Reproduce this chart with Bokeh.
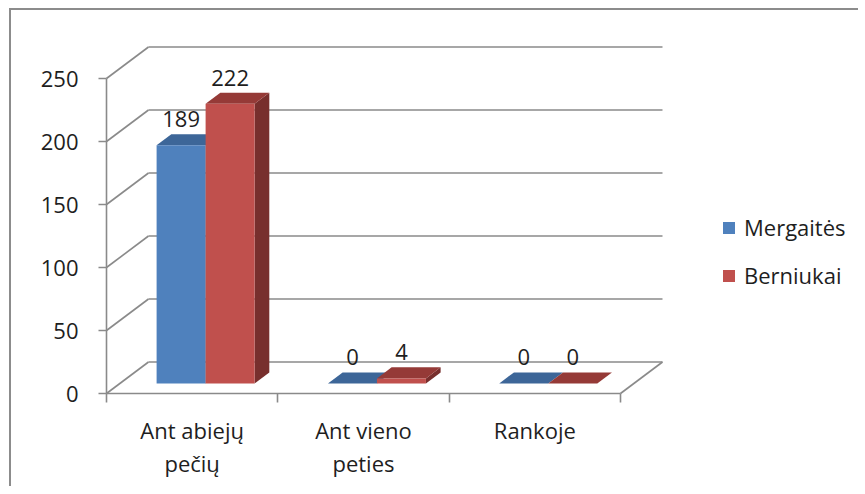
from bokeh.plotting import figure
from bokeh.models import Range1d, FixedTicker, Legend, LegendItem
from bokeh.embed import file_html
from bokeh.resources import INLINE
from bokeh.core.properties import value

# ---------------- data ----------------
categories = ["Ant abiejų\npečių", "Ant vieno\npeties", "Rankoje"]
series_names = ["Mergaitės", "Berniukai"]
mergaites = [189, 0, 0]
berniukai = [222, 4, 0]
y_ticks = [0, 50, 100, 150, 200, 250]

# ---------------- style ----------------
FONT = "Open Sans"
FS = "22px"
TEXT = "#1e1e1e"
GRID = "#8a8a8a"
FRONT = ["#4F81BD", "#C0504D"]
TOP = ["#3D6698", "#953A37"]
SIDE = ["#375C89", "#782F2D"]

W, H = 849, 478
BL, BR, BT, BB = 91, 0, 10, 91
PX_CAT = 171.33   # pixels per category
PX_VAL = 1.26     # pixels per unit
fw = W - BL - BR
fh = H - BT - BB
x0 = -4 / PX_CAT
y0 = -4 / PX_VAL

DEPTH_X = 42 / PX_CAT
DEPTH_Y = 31.5 / PX_VAL
BAR_F, BAR_B = 0.32, 0.67
BAR_W = 0.286
LABEL_GAP = 15 / PX_VAL

p = figure(width=W, height=H, output_backend="svg", toolbar_location=None,
           x_range=Range1d(x0, x0 + fw / PX_CAT), y_range=Range1d(y0, y0 + fh / PX_VAL),
           min_border_left=BL, min_border_right=BR, min_border_top=BT, min_border_bottom=BB)
p.styles = {"border-left": "2px solid #8c8c8c", "border-top": "2px solid #8c8c8c",
            "margin-left": "9px", "margin-top": "8px"}
p.outline_line_color = None
p.xgrid.grid_line_color = None
p.ygrid.grid_line_color = None
p.background_fill_color = "white"
p.border_fill_color = "white"

n = len(categories)

# ---------------- walls / gridlines ----------------
p.segment(x0=[0] * len(y_ticks), y0=y_ticks,
          x1=[DEPTH_X] * len(y_ticks), y1=[v + DEPTH_Y for v in y_ticks],
          line_color=GRID, line_width=1.6)
p.segment(x0=[DEPTH_X] * len(y_ticks), y0=[v + DEPTH_Y for v in y_ticks],
          x1=[n + DEPTH_X] * len(y_ticks), y1=[v + DEPTH_Y for v in y_ticks],
          line_color=GRID, line_width=1.6)
# front axis line, floor front and right edges
p.segment(x0=[0, 0, n], y0=[0, 0, 0], x1=[0, n, n + DEPTH_X], y1=[y_ticks[-1], 0, DEPTH_Y],
          line_color=GRID, line_width=1.6)

# ---------------- bars ----------------
ddx = (BAR_B - BAR_F) * DEPTH_X
ddy = (BAR_B - BAR_F) * DEPTH_Y
front_renderers = []
for s, vals in enumerate([mergaites, berniukai]):
    lefts = [i + 0.5 + (s - 1) * BAR_W + BAR_F * DEPTH_X for i in range(n)]
    rights = [l + BAR_W for l in lefts]
    bottom = BAR_F * DEPTH_Y
    tops = [bottom + v for v in vals]
    side_xs = [[r, r + ddx, r + ddx, r] for r in rights]
    side_ys = [[bottom, bottom + ddy, t + ddy, t] for t in tops]
    p.patches(side_xs, side_ys, fill_color=SIDE[s], line_color=None)
    top_xs = [[l, r, r + ddx, l + ddx] for l, r in zip(lefts, rights)]
    top_ys = [[t, t, t + ddy, t + ddy] for t in tops]
    p.patches(top_xs, top_ys, fill_color=TOP[s], line_color=None)
    fr = p.quad(left=lefts, right=rights, bottom=[bottom] * n, top=tops,
                fill_color=FRONT[s], line_color=None)
    front_renderers.append(fr)
    p.text(x=[(l + r) / 2 for l, r in zip(lefts, rights)],
           y=[v + BAR_B * DEPTH_Y + LABEL_GAP for v in vals],
           text=[str(v) for v in vals],
           text_align="center", text_baseline="alphabetic",
           text_font=value(FONT), text_font_size=FS, text_color=TEXT)

# ---------------- axes ----------------
ya = p.yaxis[0]
ya.ticker = FixedTicker(ticks=y_ticks)
ya.axis_line_color = None
ya.major_tick_line_color = GRID
ya.major_tick_line_width = 1.6
ya.major_tick_in = 4
ya.major_tick_out = 4
ya.minor_tick_line_color = None
ya.major_label_standoff = 20
ya.major_label_text_font = FONT
ya.major_label_text_font_size = FS
ya.major_label_text_color = TEXT

xa = p.xaxis[0]
centers = [i + 0.5 for i in range(n)]
xa.ticker = FixedTicker(ticks=centers, minor_ticks=list(range(n + 1)))
xa.major_label_overrides = {c: lab for c, lab in zip(centers, categories)}
xa.axis_line_color = None
xa.major_tick_line_color = None
xa.major_tick_in = 0
xa.major_tick_out = 0
xa.minor_tick_line_color = GRID
xa.minor_tick_line_width = 1.6
xa.minor_tick_in = 4
xa.minor_tick_out = 5
xa.major_label_standoff = 12
xa.major_label_text_font = FONT
xa.major_label_text_font_size = FS
xa.major_label_text_color = TEXT
xa.major_label_text_line_height = 1.1

# ---------------- legend ----------------
legend = Legend(items=[LegendItem(label=series_names[i], renderers=[front_renderers[i]]) for i in range(2)],
                location=(619, 107), orientation="vertical",
                border_line_color=None, background_fill_alpha=0,
                padding=0, margin=0, glyph_width=15, glyph_height=15,
                label_standoff=8, spacing=18,
                label_text_font=FONT, label_text_font_size=FS, label_text_color=TEXT)
p.add_layout(legend)

open("out.html", "w").write(file_html(p, INLINE))
